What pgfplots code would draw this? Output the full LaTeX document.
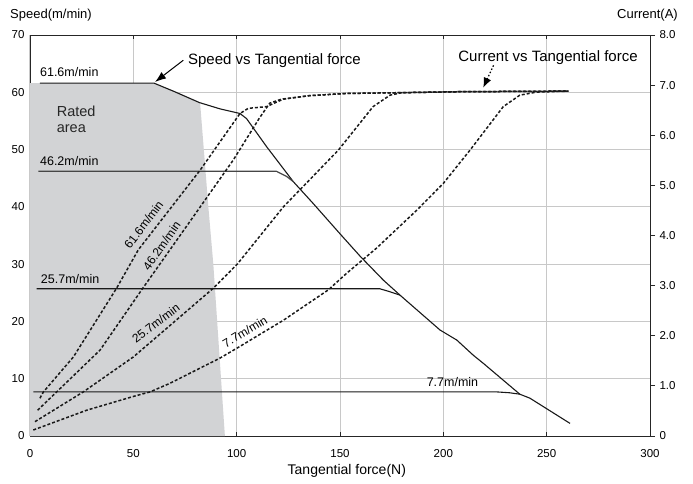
\documentclass[border=0pt]{standalone}
\usepackage{pgfplots}
\pgfplotsset{compat=1.18}
\usepackage{fontspec}
\setmainfont{Liberation Sans}
\usetikzlibrary{arrows.meta}
\definecolor{gridc}{RGB}{200,200,200}
\definecolor{ratedc}{RGB}{210,211,213}
\definecolor{linec}{RGB}{25,25,25}
\definecolor{flatc}{RGB}{70,70,70}

\begin{document}
\begin{tikzpicture}[lbl/.style={inner xsep=0pt}]
\path[use as bounding box] (-30pt,-47pt) rectangle (663pt,436pt);
% speed axis (left)
\begin{axis}[
    at={(0pt,0pt)}, anchor=south west,
    scale only axis, width=620pt, height=401pt,
    xmin=0, xmax=300, ymin=0, ymax=70,
    xtick={0,50,...,300}, ytick={0,10,...,70},
    grid=major,
    grid style={gridc, line width=1pt},
    axis line style={black!85, line width=0.9pt},
    tick align=inside, major tick length=4pt,
    ytick style={draw=none},
    xtick style={black!85, line width=0.9pt},
    tick label style={font=\fontsize{11.5}{13}\selectfont},
    /pgf/number format/assume math mode=true,
    xticklabel style={yshift=-10pt},
    yticklabel style={xshift=-2pt},
    clip=false,
]
% rated area
\addplot[fill=ratedc, draw=none] coordinates {
    (0,0) (0,61.6) (60,61.6) (70,60.2) (82.3,58.2) (86.3,40) (88.7,30) (91.5,15) (94.3,0)
} \closedcycle;

% speed vs tangential force
\addplot[linec, line width=1.1pt] coordinates {
    (4.8,61.6) (60,61.6) (70,60.1) (82,58.2) (92,57.1) (101.6,56.3) (104.8,55.4)
    (114.5,50.5) (127.4,44.4) (137,40.6) (150,35.3) (159.7,31.4) (171,27.2)
    (179,24.6) (198.4,18.5) (206.5,16.75) (214.5,14.1) (219.3,12.7) (237,7.3)
    (241.9,6.6) (261.3,2.2)
};
\addplot[flatc, line width=1.2pt] coordinates {
    (4,46.2) (119.3,46.2) (124.2,45.3) (127.4,44.4)
};
\addplot[linec, line width=1.1pt] coordinates {
    (3.2,25.7) (169.3,25.7) (174,25.2) (179,24.6)
};
\addplot[linec, line width=1.1pt] coordinates {
    (1.6,7.7) (225.8,7.7) (232,7.55) (237,7.3)
};

\node[lbl, anchor=base west, font=\fontsize{12.5}{14}\selectfont] at (axis cs:4.8,62.8) {61.6m/min};
\node[lbl, anchor=base west, font=\fontsize{12.5}{14}\selectfont] at (axis cs:4.8,47.2) {46.2m/min};
\node[lbl, anchor=base west, font=\fontsize{12.5}{14}\selectfont] at (axis cs:5.2,26.6) {25.7m/min};
\node[lbl, anchor=base west, font=\fontsize{12.5}{14}\selectfont] at (axis cs:191.9,8.6) {7.7m/min};

\node[rotate=53, font=\fontsize{12}{14}\selectfont] at (axis cs:55.0,36.9) {61.6m/min};
\node[rotate=55, font=\fontsize{12}{14}\selectfont] at (axis cs:63.7,33.2) {46.2m/min};
\node[rotate=37, font=\fontsize{12}{14}\selectfont] at (axis cs:60.9,19.7) {25.7m/min};
\node[rotate=31, font=\fontsize{12}{14}\selectfont] at (axis cs:104,18.2) {7.7m/min};

\node[lbl, anchor=base west, font=\fontsize{14.5}{16}\selectfont, text=black!85] at (axis cs:12.9,55.8) {Rated};
\node[lbl, anchor=base west, font=\fontsize{14.5}{16}\selectfont, text=black!85] at (axis cs:12.9,52.9) {area};

\node[lbl, anchor=base west, font=\fontsize{15}{17}\selectfont] at (axis cs:76.4,64.9) {Speed vs Tangential force};
\draw[black, line width=1pt, -{Latex[length=11pt,width=8pt]}] (axis cs:74.2,65.6) -- (axis cs:60.5,61.8);
\node[lbl, anchor=base west, font=\fontsize{15}{17}\selectfont] at (axis cs:207.2,65.3) {Current vs Tangential force};
\draw[black, line width=1.2pt, dash pattern=on 1.5pt off 2pt, -{Latex[length=10pt,width=8pt]}] (axis cs:224.3,64.7) -- (axis cs:219.3,60.8);

\node[lbl, anchor=base west, font=\fontsize{13}{15}\selectfont] at (axis description cs:-0.0323,1.0424) {Speed(m/min)};
\node[lbl, anchor=base east, font=\fontsize{13}{15}\selectfont] at (axis description cs:1.0452,1.0424) {Current(A)};
\node[anchor=base, font=\fontsize{14}{16}\selectfont] at (axis description cs:0.511,-0.0948) {Tangential force(N)};
\end{axis}

% current axis (right)
\begin{axis}[
    at={(0pt,0pt)}, anchor=south west,
    scale only axis, width=620pt, height=401pt,
    xmin=0, xmax=300, ymin=0, ymax=8,
    axis x line=none, axis y line*=right,
    axis line style={black!85, line width=0.9pt},
    ytick={0,1,...,8},
    yticklabels={0,1.0,2.0,3.0,4.0,5.0,6.0,7.0,8.0},
    tick align=outside, major tick length=5pt,
    ytick style={black!85, line width=0.9pt},
    tick label style={font=\fontsize{11.5}{13}\selectfont},
    yticklabel style={xshift=1pt},
]
% 61.6 m/min
\addplot[linec, no marks, line width=1.5pt, dash pattern=on 3pt off 2pt] coordinates {
    (4.8,0.754) (6.5,0.88) (21,1.577) (41.9,2.949) (52.4,3.714) (82.3,5.303)
    (101.6,6.434) (105.6,6.537) (114.5,6.571) (119.4,6.663) (122.6,6.72)
    (135,6.789) (153,6.834) (180,6.85) (208,6.869) (260.5,6.88)
};
% 46.2 m/min
\addplot[linec, no marks, line width=1.5pt, dash pattern=on 3pt off 2pt] coordinates {
    (3.7,0.514) (12.9,0.88) (33.9,1.714) (54,2.914) (67.7,3.714) (82.3,4.567)
    (98.4,5.509) (111,6.343) (116,6.64) (121.6,6.72) (135,6.789) (153,6.834)
    (180,6.85) (208,6.869) (260.5,6.88)
};
% 25.7 m/min
\addplot[linec, no marks, line width=1.5pt, dash pattern=on 3pt off 2pt] coordinates {
    (2.4,0.286) (25.8,0.88) (50,1.577) (72.6,2.377) (88.7,2.949) (100.3,3.429)
    (122.6,4.571) (149.2,5.703) (166,6.571) (174.2,6.8) (180,6.85) (208,6.869)
    (260.5,6.88)
};
% 7.7 m/min
\addplot[linec, no marks, line width=1.5pt, dash pattern=on 3pt off 2pt] coordinates {
    (1.6,0.12) (27.4,0.514) (50,0.789) (58.1,0.88) (67.7,1.051) (91.9,1.554)
    (100,1.749) (122.6,2.309) (144.3,2.914) (153.2,3.246) (167.7,3.749)
    (187.1,4.503) (200,5.04) (212.9,5.703) (229,6.571) (237,6.8) (245,6.86)
    (260.5,6.88)
};
\end{axis}
\end{tikzpicture}
\end{document}
